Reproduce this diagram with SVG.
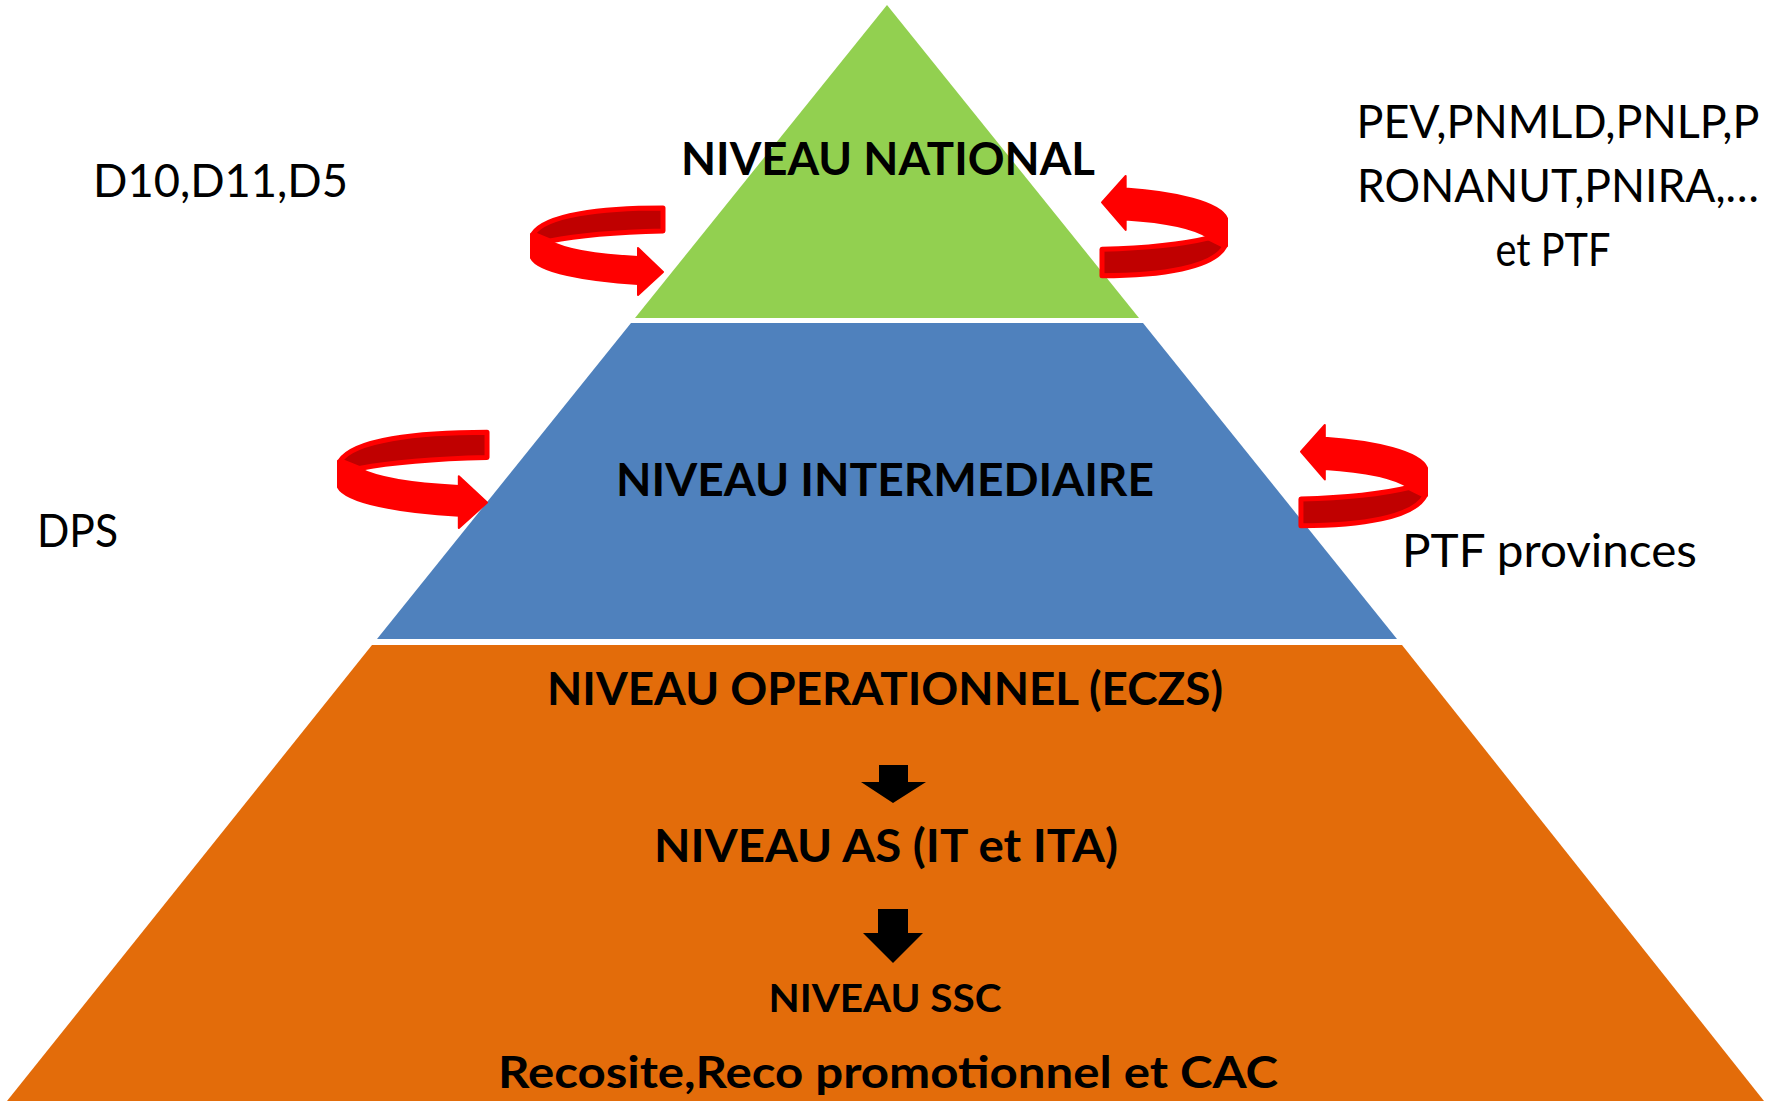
<svg xmlns="http://www.w3.org/2000/svg" width="1779" height="1104" viewBox="0 0 1779 1104">
  <style>
    .lvl { font-family: Lato, "Open Sans", "Liberation Sans", sans-serif; font-weight: 700; fill: #000; text-anchor: middle; }
    .lbl { font-family: Lato, "Open Sans", "Liberation Sans", sans-serif; font-weight: 400; fill: #000; font-size: 47px; }
    .back { fill: #C00000; stroke: #FF0000; stroke-width: 5; stroke-linejoin: round; }
    .front { fill: #FF0000; stroke: #FF0000; stroke-width: 2; stroke-linejoin: round; }
    .down { fill: #000; }
  </style>
  <defs>
    <g id="curl">
      <path class="back" vector-effect="non-scaling-stroke" d="M132,2 C69,2 14,9 2,28 L19,35 C49,29 89,26 132,25 Z"/>
      <path class="front" vector-effect="non-scaling-stroke" d="M0,28 L0,52 C7,66 54,75 107,78 L107,89 L132,66 L107,42 L107,51 C69,49 35,44 19,35 Z"/>
    </g>
  </defs>
  <rect width="1779" height="1104" fill="#FFFFFF"/>

  <g id="niveau-national">
    <polygon points="887,5 1139,318 635,318" fill="#92D050"/>
    <text class="lvl" x="888" y="175" font-size="45" textLength="414" lengthAdjust="spacingAndGlyphs">NIVEAU NATIONAL</text>
  </g>

  <g id="niveau-intermediaire">
    <polygon points="631,323 1143,323 1397,639 377,639" fill="#4F81BD"/>
    <text class="lvl" x="885" y="496" font-size="45" textLength="538" lengthAdjust="spacingAndGlyphs">NIVEAU INTERMEDIAIRE</text>
  </g>

  <g id="niveau-operationnel">
    <polygon points="372,645 1402,645 1764,1101 7,1101" fill="#E36C0A"/>
    <text class="lvl" x="885" y="705" font-size="45" textLength="676" lengthAdjust="spacingAndGlyphs">NIVEAU OPERATIONNEL (ECZS)</text>
    <text class="lvl" x="886" y="862" font-size="45" textLength="464" lengthAdjust="spacingAndGlyphs">NIVEAU AS (IT et ITA)</text>
    <text class="lvl" x="885" y="1012" font-size="38" textLength="233" lengthAdjust="spacingAndGlyphs">NIVEAU SSC</text>
    <text class="lvl" x="888" y="1088" font-size="43" textLength="780" lengthAdjust="spacingAndGlyphs">Recosite,Reco promotionnel et CAC</text>
  </g>

  <g id="label-left-national">
    <text class="lbl" x="93" y="197" textLength="255" lengthAdjust="spacingAndGlyphs">D10,D11,D5</text>
  </g>
  <g id="label-left-intermediaire">
    <text class="lbl" x="37" y="547" textLength="81" lengthAdjust="spacingAndGlyphs">DPS</text>
  </g>
  <g id="label-right-national">
    <text class="lbl" x="1558" y="138" text-anchor="middle" textLength="403" lengthAdjust="spacingAndGlyphs">PEV,PNMLD,PNLP,P</text>
    <text class="lbl" x="1558" y="202" text-anchor="middle" textLength="402" lengthAdjust="spacingAndGlyphs">RONANUT,PNIRA,…</text>
    <text class="lbl" x="1553" y="266" text-anchor="middle" textLength="115" lengthAdjust="spacingAndGlyphs">et PTF</text>
  </g>
  <g id="label-right-intermediaire">
    <text class="lbl" x="1402" y="567" textLength="295" lengthAdjust="spacingAndGlyphs">PTF provinces</text>
  </g>

  <g id="connectors">
    <use href="#curl" transform="translate(531,206)"/>
    <use href="#curl" transform="translate(338,430) scale(1.129,1.10)"/>
    <use href="#curl" transform="translate(1227,278) scale(-0.947,-1.146)"/>
    <use href="#curl" transform="translate(1427,528) scale(-0.955,-1.157)"/>
    <polygon class="down" points="879,765 908,765 908,782 926,782 893,803 861,782 879,782"/>
    <polygon class="down" points="878,909 908,909 908,933 923,933 893,963 863,933 878,933"/>
  </g>
</svg>
